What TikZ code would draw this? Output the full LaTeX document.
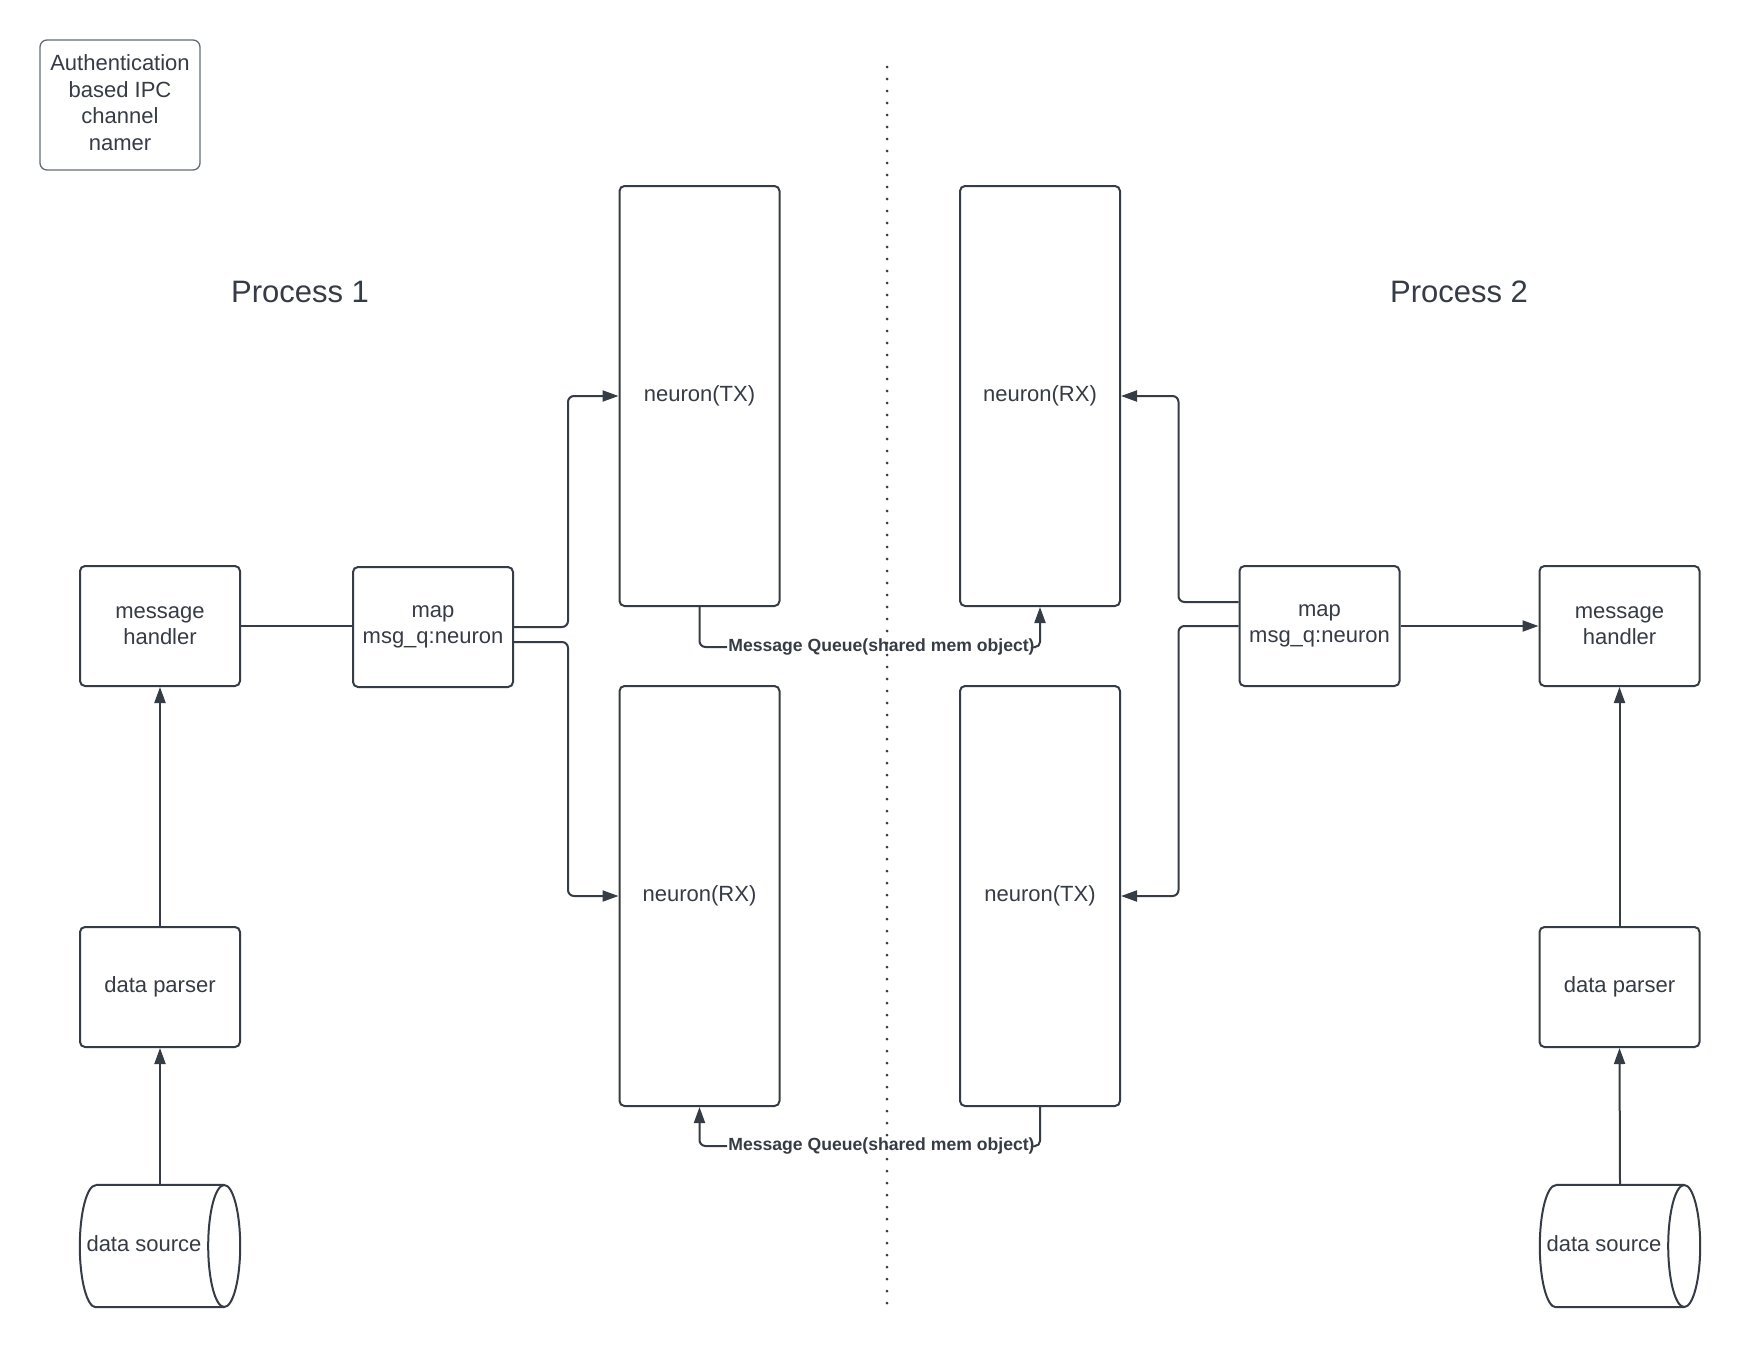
\documentclass[tikz,border=0pt]{standalone}
\usepackage{fontspec}
\setmainfont{Liberation Sans}
\usetikzlibrary{arrows.meta,calc}
\definecolor{ink}{RGB}{54,60,70}
\definecolor{frame}{RGB}{100,107,117}

\begin{document}
\begin{tikzpicture}[x=1pt,y=-1pt,
  every node/.style={text=ink},
  box/.style={draw=ink, line width=2pt, rounded corners=5pt,
    minimum width=160pt, minimum height=120pt, align=center,
    font=\fontsize{22}{26}\selectfont, inner sep=0pt},
  tall/.style={box, minimum height=420pt},
  lbl/.style={font=\fontsize{22}{26}\selectfont, inner sep=0pt},
  conn/.style={draw=ink, line width=2pt, rounded corners=6pt},
  arr/.style={conn, -{Triangle[length=16pt,width=11pt]}},
  mq/.style={font=\fontsize{17.6}{20}\selectfont\bfseries, inner xsep=1pt, inner ysep=2pt},
  title/.style={font=\fontsize{31}{36}\selectfont, inner sep=0pt},
  cylbody/.style={inner sep=0pt, minimum width=160pt, minimum height=122pt},
  divider/.style={draw=ink, line width=3pt, line cap=round, dash pattern=on 0pt off 12pt}
]
\fill[white] (0,0) rectangle (1740,1347);
\useasboundingbox (0,0) rectangle (1740,1347);

% legend box
\node[box, draw=frame, line width=1.3pt, rounded corners=7pt, minimum height=130pt,
      font=\fontsize{22}{26.7}\selectfont] (auth) at (120,105)
      {\raisebox{2.5pt}[\height][\depth]{\parbox{150pt}{\centering Authentication\\based IPC\\channel\\namer}}};

% process titles
\node[title] (p1) at (300,292) {Process 1};
\node[title] (p2) at (1459,292) {Process 2};

% divider between the two processes
\coordinate (divtop) at (887,67);
\coordinate (divbot) at (887,1307);
\draw[divider] (divtop) -- (divbot);

% process 1 blocks
\node[box] (msgL) at (160,626) {message\\handler};
\node[box] (parserL) at (160,987) {data parser};
\node[cylbody] (srcL) at (160,1246) {};
\node[box] (mapL) at (433,627) {map\\msg\_q:neuron};
\node[tall] (ntxL) at (699.5,396) {neuron(TX)};
\node[tall] (nrxL) at (699.5,896) {neuron(RX)};

% process 2 blocks
\node[tall] (nrxR) at (1040,396) {neuron(RX)};
\node[tall] (ntxR) at (1040,896) {neuron(TX)};
\node[box] (mapR) at (1319.5,626) {map\\msg\_q:neuron};
\node[box] (msgR) at (1619.5,626) {message\\handler};
\node[box] (parserR) at (1619.5,987) {data parser};
\node[cylbody] (srcR) at (1620,1246) {};

% data source cylinders
\foreach \c in {srcL,srcR}{
  \draw[conn, sharp corners] ([xshift=16pt]\c.north west) -- ([xshift=-16pt]\c.north east)
        ([xshift=-16pt]\c.south east) -- ([xshift=16pt]\c.south west)
        arc[start angle=270, end angle=90, x radius=16pt, y radius=61pt];
  \draw[conn] ([xshift=-16pt]\c.east) ellipse [x radius=16pt, y radius=61pt];
}
\node[lbl] (srcLtext) at ([xshift=-16pt, yshift=2pt]srcL.center) {data source};
\node[lbl] (srcRtext) at ([xshift=-16pt, yshift=2pt]srcR.center) {data source};

% message queue labels
\node[mq] (mq1) at (881.5,647) {Message Queue(shared mem object)};
\node[mq] (mq2) at (881.5,1146) {Message Queue(shared mem object)};

% process 1 connectors
\draw[arr] (srcL.north) -- (parserL.south);
\draw[arr] (parserL.north) -- (msgL.south);
\draw[conn] (msgL.east) -- (msgL.east -| mapL.west);
\draw[arr] (mapL.east) -- ++(54,0) |- (ntxL.west);
\draw[arr] ([yshift=-15pt]mapL.east) -- ++(54,0) |- (nrxL.west);

% process 2 connectors
\draw[arr] (srcR.north) -- (parserR.south);
\draw[arr] (parserR.north) -- (msgR.south);
\draw[arr] (mapR.east) -- (mapR.east -| msgR.west);
\draw[arr] ([yshift=24pt]mapR.west) -- ++(-60,0) |- (nrxR.east);
\draw[arr] (mapR.west) -- ++(-60,0) |- (ntxR.east);

% shared memory queues
\draw[conn] (ntxL.south) |- (mq1.west);
\draw[arr, rounded corners=5pt] (mq1.east) -| (nrxR.south);
\draw[conn, rounded corners=5pt] (ntxR.south) |- (mq2.east);
\draw[arr] (mq2.west) -| (nrxL.south);
\end{tikzpicture}
\end{document}
